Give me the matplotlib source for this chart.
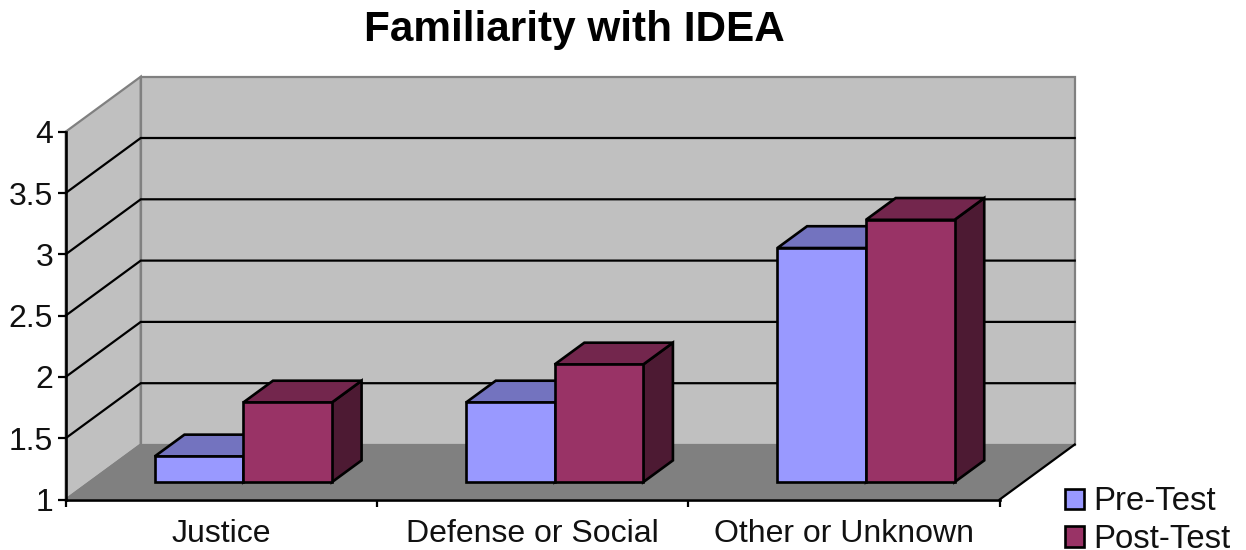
import matplotlib
matplotlib.use("Agg")
import matplotlib.pyplot as plt
from matplotlib.patches import Polygon, Patch

plt.rcParams["font.family"] = ["Liberation Sans", "DejaVu Sans"]

# Data
categories = ["Justice", "Defense or Social", "Other or Unknown"]
pre_test = [1.21, 1.65, 2.91]
post_test = [1.65, 1.96, 3.14]
y_ticks = [1, 1.5, 2, 2.5, 3, 3.5, 4]
y_labels = ["1", "1.5", "2", "2.5", "3", "3.5", "4"]

# Oblique shift of one full depth unit, in data units
SHIFT_X = 0.241
SHIFT_Y = 0.4486

# Bar layout inside a category
GAP = 0.2100
BAR_W = 0.2845
DEPTH_FRONT = 0.315
DEPTH_BACK = 0.711

WALL = "#C0C0C0"
FLOOR = "#808080"
EDGE = "#808080"


def proj(x, v, d):
    return (x + d * SHIFT_X, v + d * SHIFT_Y)


def face(ax, points, color, edge="black", lw=1.9, z=2):
    ax.add_patch(Polygon([proj(*p) for p in points], closed=True, facecolor=color,
                         edgecolor=edge, linewidth=lw, clip_on=False, zorder=z,
                         joinstyle="miter"))


def bar3d(ax, x0, x1, value, front, top, side):
    d0, d1 = DEPTH_FRONT, DEPTH_BACK
    # side, then top, then front so the front face stays on top
    face(ax, [(x1, 1, d0), (x1, 1, d1), (x1, value, d1), (x1, value, d0)], side, z=3)
    face(ax, [(x0, value, d0), (x1, value, d0), (x1, value, d1), (x0, value, d1)], top, z=3)
    face(ax, [(x0, 1, d0), (x1, 1, d0), (x1, value, d0), (x0, value, d0)], front, z=3)


fig = plt.figure(figsize=(12.46, 5.5), dpi=100)
ax = fig.add_axes([65.7 / 1246, 1 - 499.5 / 550, 934 / 1246, 367.8 / 550])
ax.set_xlim(0, 3)
ax.set_ylim(1, 4)
ax.patch.set_visible(False)

# Walls and floor
face(ax, [(0, 1, 0), (0, 4, 0), (0, 4, 1), (0, 1, 1)], WALL, edge=EDGE, lw=1.6, z=1)
face(ax, [(0, 1, 1), (3, 1, 1), (3, 4, 1), (0, 4, 1)], WALL, edge=EDGE, lw=1.6, z=1)
face(ax, [(0, 1, 0), (3, 1, 0), (3, 1, 1), (0, 1, 1)], FLOOR, edge="none", lw=0, z=1)
left_floor = [proj(0, 1, 0), proj(0, 1, 1)]
right_floor = [proj(3, 1, 0), proj(3, 1, 1)]
ax.plot(*zip(*left_floor), color=EDGE, lw=1.3, clip_on=False, zorder=1.5)
ax.plot(*zip(*right_floor), color="black", lw=1.6, clip_on=False, zorder=1.5)

# Gridlines run along the side wall and the back wall
for v in y_ticks[1:-1]:
    line = [proj(0, v, 0), proj(0, v, 1), proj(3, v, 1)]
    ax.plot(*zip(*line), color="black", lw=1.6, clip_on=False, zorder=1.6,
            solid_joinstyle="miter")

for i in range(len(categories)):
    left = i + GAP
    bar3d(ax, left, left + BAR_W, pre_test[i], "#9999FF", "#7373BF", "#4D4D80")
    bar3d(ax, left + BAR_W, left + 2 * BAR_W, post_test[i], "#993366", "#73264D", "#4D1A33")

# Axes
for name in ["top", "right"]:
    ax.spines[name].set_visible(False)
for name in ["left", "bottom"]:
    ax.spines[name].set_linewidth(1.9)
    ax.spines[name].set_zorder(2.5)

ax.set_yticks(y_ticks)
ax.set_yticklabels(y_labels, fontsize=23, color="#111111")
ax.tick_params(axis="y", length=6, width=1.6, pad=3)
ax.set_xticks([0, 1, 2, 3])
ax.set_xticklabels([])
ax.set_xticks([0.5, 1.5, 2.5], minor=True)
ax.set_xticklabels(categories, minor=True, fontsize=23, color="#111111")
ax.tick_params(axis="x", which="major", length=5, width=1.6)
ax.tick_params(axis="x", which="minor", length=0, pad=14)

fig.suptitle("Familiarity with IDEA", x=574 / 1246, y=1 - 30 / 550, va="center",
             fontsize=30.4, fontweight="bold", color="black")

handles = [Patch(facecolor="#9999FF", edgecolor="black", linewidth=1.9, label="Pre-Test"),
           Patch(facecolor="#993366", edgecolor="black", linewidth=1.9, label="Post-Test")]
fig.legend(handles=handles, loc="lower left", bbox_to_anchor=(1065 / 1246, 1 - 555 / 550),
           frameon=False, fontsize=23.7, handlelength=0.58, handleheight=0.58,
           handletextpad=0.28, labelspacing=0.2, borderpad=0, borderaxespad=0,
           labelcolor="#111111")

fig.savefig("out.png", dpi=100)
